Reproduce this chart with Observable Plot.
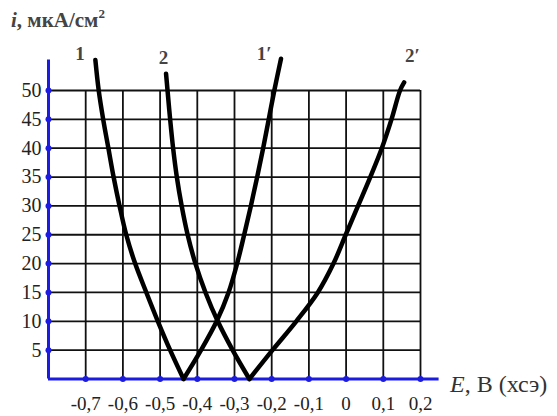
<!DOCTYPE html>
<html>
<head>
<meta charset="utf-8">
<script src="https://cdn.jsdelivr.net/npm/d3@7"></script>
<script src="https://cdn.jsdelivr.net/npm/@observablehq/plot@0.6"></script>
<style>
  html, body { margin: 0; padding: 0; background: #fff; }
  #chart { width: 557px; height: 416px; }
</style>
</head>
<body>
<div id="chart"></div>
<script>
// ---- data ----
const current = [0, 5, 10, 15, 20, 25, 30, 35, 40, 45, 50];
const curve1E  = [-0.437, -0.473, -0.506, -0.537, -0.567, -0.591, -0.609, -0.625, -0.639, -0.653, -0.665];
const curve1pE = [-0.437, -0.390, -0.348, -0.316, -0.293, -0.274, -0.256, -0.239, -0.223, -0.208, -0.193];
const curve2E  = [-0.260, -0.305, -0.345, -0.378, -0.405, -0.426, -0.442, -0.455, -0.465, -0.473, -0.480];
const curve2pE = [-0.260, -0.198, -0.134, -0.076, -0.034, -0.001, 0.032, 0.065, 0.096, 0.122, 0.145];
// curve end points above the top grid line
const curveTopE = {"1": -0.674, "1′": -0.175, "2": -0.484, "2′": 0.156};
const curveTopI = {"1": 55.3, "1′": 55.5, "2": 52.9, "2′": 51.4};

const curveNames = ["1", "2", "1′", "2′"];
const curveLabelE = [-0.715, -0.491, -0.220, 0.178];
const curveLabelI = [56.3, 55.6, 56.3, 56.0];

const xTicks = [-0.7, -0.6, -0.5, -0.4, -0.3, -0.2, -0.1, 0, 0.1, 0.2];
const xTickLabels = ["-0,7", "-0,6", "-0,5", "-0,4", "-0,3", "-0,2", "-0,1", "0", "0,1", "0,2"];
const yTicks = [5, 10, 15, 20, 25, 30, 35, 40, 45, 50];
const yTickLabels = ["5", "10", "15", "20", "25", "30", "35", "40", "45", "50"];

const xAxisStart = -0.8, xAxisEnd = 0.25, yAxisTop = 55.3;

// ---- build tables ----
function series(name, es) {
  const pts = es.map((e, k) => ({name, E: e, i: current[k]}));
  pts.push({name, E: curveTopE[name], i: curveTopI[name]});
  return pts;
}
const curves = [
  series("1", curve1E),
  series("1′", curve1pE),
  series("2", curve2E),
  series("2′", curve2pE)
];
const xt = xTicks.map((v, k) => ({v, label: xTickLabels[k]}));
const yt = yTicks.map((v, k) => ({v, label: yTickLabels[k]}));
const labels = curveNames.map((n, k) => ({n, E: curveLabelE[k], i: curveLabelI[k]}));

const blue = "#1c1ce0";
const font = "'Liberation Serif', 'Times New Roman', serif";

const plot = Plot.plot({
  width: 557,
  height: 416,
  marginLeft: 48,
  marginRight: 137,
  marginTop: 90,
  marginBottom: 37.5,
  x: {domain: [-0.8, 0.2], axis: null},
  y: {domain: [0, 50], axis: null},
  style: {fontFamily: font, background: "#fff", overflow: "visible"},
  marks: [
    // grid
    Plot.ruleY(yTicks, {x1: -0.8, x2: 0.2, stroke: "#111", strokeWidth: 1.8}),
    Plot.ruleX(xTicks, {y1: 0, y2: 50, stroke: "#111", strokeWidth: 1.8}),
    // blue axes
    Plot.ruleY([0], {x1: xAxisStart, x2: xAxisEnd, stroke: blue, strokeWidth: 3}),
    Plot.ruleX([xAxisStart], {y1: 0, y2: yAxisTop, stroke: blue, strokeWidth: 3}),
    Plot.dot(xTicks, {x: d => d, y: 0, r: 3, fill: blue}),
    Plot.dot(yTicks, {x: xAxisStart, y: d => d, r: 3, fill: blue}),
    // curves
    ...curves.map(c => Plot.line(c, {x: "E", y: "i", stroke: "#000", strokeWidth: 4.5, curve: "catmull-rom"})),
    // tick labels
    Plot.text(xt, {x: "v", y: 0, text: "label", dy: 25, fontSize: 19, fontFamily: font, fill: "#222"}),
    Plot.text(yt, {x: xAxisStart, y: "v", text: "label", dx: -7, textAnchor: "end", fontSize: 20, fontFamily: font, fill: "#222"}),
    // curve labels
    Plot.text(labels, {x: "E", y: "i", text: "n", fontSize: 19, fontFamily: font, fontWeight: "bold", fill: "#444"})
  ]
});

const svg = d3.select(plot);
// y-axis title
const yt1 = svg.append("text").attr("x", 11).attr("y", 27).attr("text-anchor", "start")
  .attr("font-family", font).attr("font-size", 21).attr("fill", "#444").attr("font-weight", "bold");
yt1.append("tspan").attr("font-style", "italic").text("i");
yt1.append("tspan").text(", мкА/см");
yt1.append("tspan").attr("dy", -9).attr("font-size", 13).text("2");
// x-axis title
const xt1 = svg.append("text").attr("x", 450).attr("y", 392).attr("text-anchor", "start")
  .attr("font-family", font).attr("font-size", 24).attr("fill", "#333");
xt1.append("tspan").attr("font-style", "italic").text("E");
xt1.append("tspan").text(", В (хсэ)");

document.getElementById("chart").appendChild(plot);
</script>
</body>
</html>
